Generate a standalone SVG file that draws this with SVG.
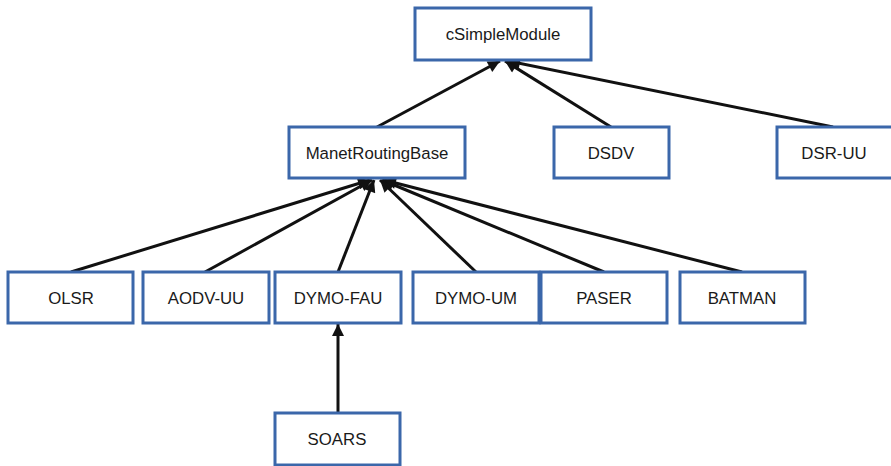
<svg xmlns="http://www.w3.org/2000/svg" width="891" height="466" viewBox="0 0 891 466">
<style>
.n rect{fill:#fff;stroke:#3b67aa;stroke-width:3}
.n text{font-family:"Liberation Sans",Arial,sans-serif;font-size:16.8px;fill:#1a1a1a;text-anchor:middle;dominant-baseline:central}
.e line{stroke:#111;stroke-width:3;marker-end:url(#ah)}
</style>
<defs>
<marker id="ah" viewBox="0 0 10 10" refX="10" refY="5" markerWidth="4.4" markerHeight="4" orient="auto" markerUnits="strokeWidth">
<path d="M0,0L10,5L0,10z" fill="#111"/>
</marker>
</defs>
<rect width="891" height="466" fill="#fff"/>
<g class="e">
<line x1="377" y1="127" x2="500" y2="61"/>
<line x1="611" y1="127" x2="505" y2="61"/>
<line x1="833" y1="127" x2="508" y2="61"/>
<line x1="71" y1="272" x2="370" y2="180"/>
<line x1="205" y1="272" x2="372" y2="180"/>
<line x1="338" y1="272" x2="374" y2="180"/>
<line x1="476" y1="272" x2="380" y2="180"/>
<line x1="604" y1="272" x2="382" y2="180"/>
<line x1="742" y1="272" x2="384" y2="180"/>
<line x1="338" y1="413" x2="338" y2="324"/>
</g>
<g id="cSimpleModule" class="n"><rect x="415" y="8" width="176" height="52"/><text x="503" y="34">cSimpleModule</text></g>
<g id="ManetRoutingBase" class="n"><rect x="289" y="127" width="176" height="51"/><text x="377" y="153">ManetRoutingBase</text></g>
<g id="DSDV" class="n"><rect x="554" y="127" width="115" height="51"/><text x="611" y="153">DSDV</text></g>
<g id="DSR-UU" class="n"><rect x="777" y="127" width="116" height="51"/><text x="834" y="153">DSR-UU</text></g>
<g id="OLSR" class="n"><rect x="8" y="272" width="125" height="51"/><text x="71" y="298">OLSR</text></g>
<g id="AODV-UU" class="n"><rect x="143" y="272" width="126" height="51"/><text x="206" y="298">AODV-UU</text></g>
<g id="DYMO-FAU" class="n"><rect x="275" y="272" width="126" height="51"/><text x="338" y="298">DYMO-FAU</text></g>
<g id="DYMO-UM" class="n"><rect x="413" y="272" width="126" height="51"/><text x="476" y="298">DYMO-UM</text></g>
<g id="PASER" class="n"><rect x="541" y="272" width="126" height="51"/><text x="604" y="298">PASER</text></g>
<g id="BATMAN" class="n"><rect x="680" y="272" width="125" height="51"/><text x="742" y="298">BATMAN</text></g>
<g id="SOARS" class="n"><rect x="275" y="413" width="125" height="52"/><text x="337" y="439">SOARS</text></g>
</svg>
